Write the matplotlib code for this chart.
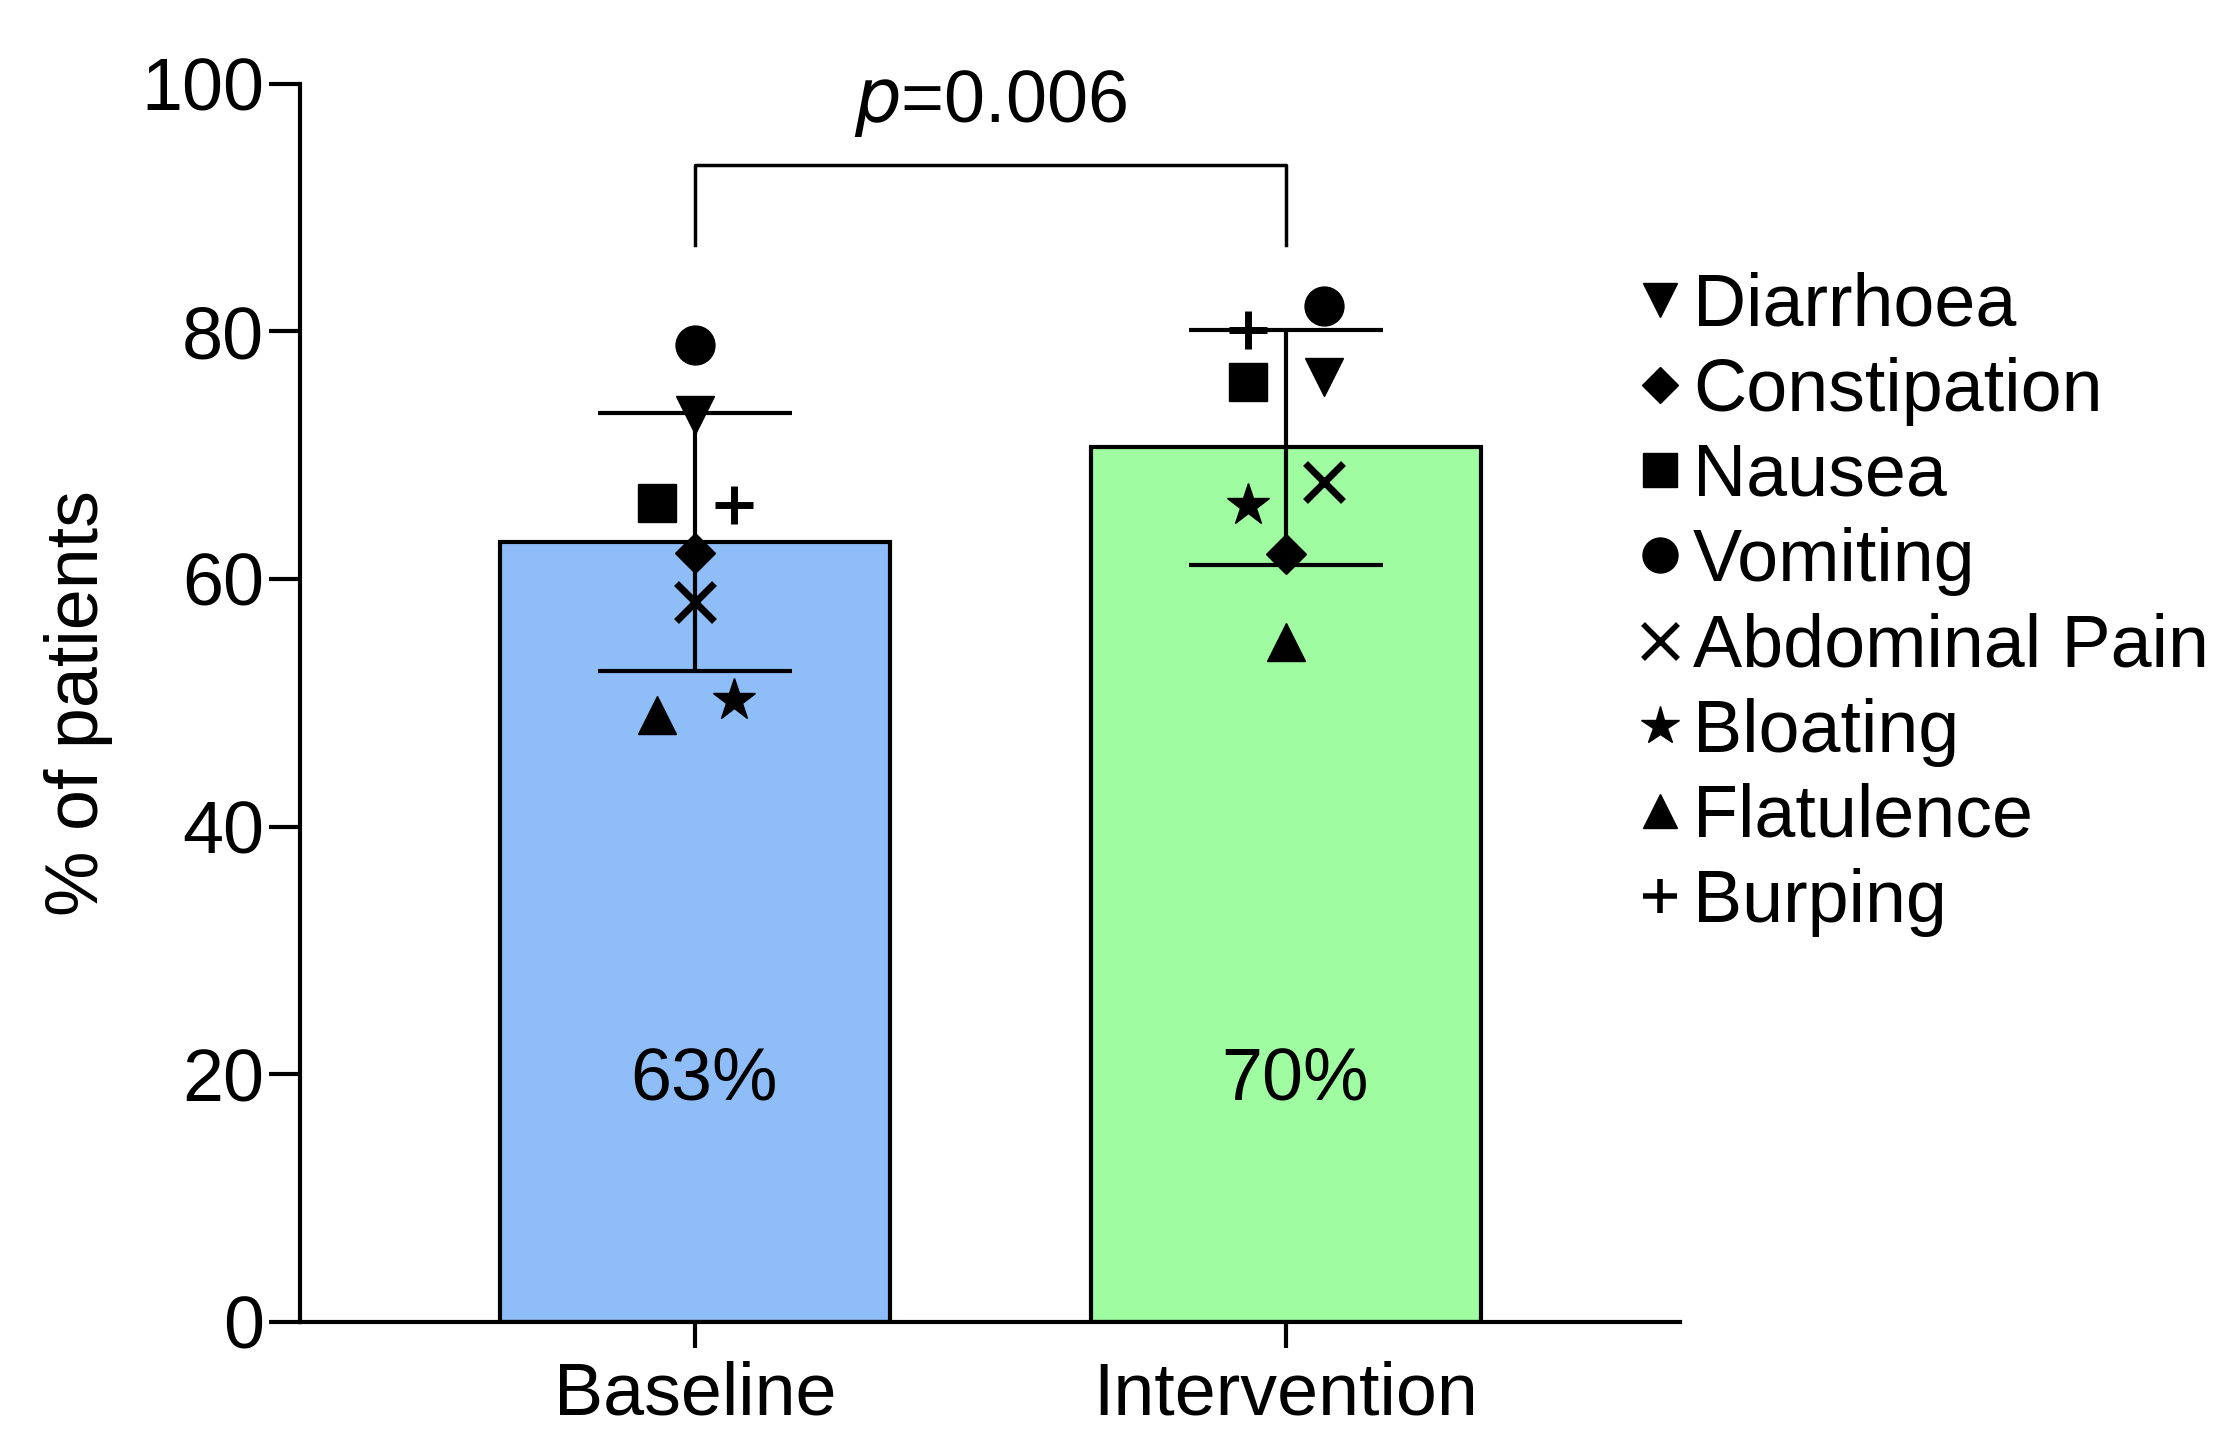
import numpy as np
import matplotlib.pyplot as plt
from matplotlib.lines import Line2D

plt.rcParams['font.family'] = ['Liberation Sans', 'DejaVu Sans']

groups = ['Baseline', 'Intervention']
symptoms = ['Diarrhoea', 'Constipation', 'Nausea', 'Vomiting',
            'Abdominal Pain', 'Bloating', 'Flatulence', 'Burping']
baseline = [73.2, 62.1, 66.1, 78.9, 58.1, 50.2, 49.0, 66.0]
intervention = [76.3, 62.0, 75.9, 82.0, 67.8, 66.0, 54.9, 80.1]
bar_labels = ['63%', '70%']
p_text = 'p=0.006'

# symbol per symptom, and which side of the bar centre it sits (-1, 0, 1)
markers = {'Diarrhoea': 'v', 'Constipation': 'D', 'Nausea': 's', 'Vomiting': 'o',
           'Abdominal Pain': 'x', 'Bloating': '*', 'Flatulence': '^', 'Burping': '+'}
msize = {'v': 27, 'D': 20, 's': 27, 'o': 28, 'x': 28, '*': 32, '^': 27, '+': 27}
side_base = [0, 0, -1, 0, 0, 1, -1, 1]
side_int = [1, 0, -1, 1, 1, -1, 0, -1]

data = [np.array(baseline), np.array(intervention)]
means = [d.mean() for d in data]
sds = [d.std(ddof=1) for d in data]

FS = 53

fig = plt.figure(figsize=(22.21, 14.31), dpi=100)
ax = fig.add_axes([0.1352, 0.0762, 0.6212, 0.8654])

x = np.arange(len(groups))
ax.bar(x, means, width=0.66, color=['#8fbdf7', '#a0fca0'],
       edgecolor='black', linewidth=3, zorder=1)
ax.errorbar(x, means, yerr=sds, fmt='none', ecolor='black', elinewidth=3,
            capsize=70, capthick=3, zorder=2)

step = 0.065
for gi, (vals, sides) in enumerate([(baseline, side_base), (intervention, side_int)]):
    for s, v, sd in zip(symptoms, vals, sides):
        m = markers[s]
        ax.plot(x[gi] + sd * step, v, marker=m, color='black', markersize=msize[m],
                markeredgewidth=5 if m in 'x+' else 1, linestyle='none',
                zorder=3, clip_on=False)

for xi, lab in zip(x, bar_labels):
    ax.text(xi + 0.015, 19.5, lab, ha='center', va='center', fontsize=FS)

# significance bracket
ax.plot([x[0], x[0], x[1], x[1]], [87, 93.4, 93.4, 87], color='black',
        linewidth=2.5, clip_on=False)
ax.text((x[0] + x[1]) / 2, 98.4, r'$\it{p}$' + p_text[1:], ha='center',
        va='center', fontsize=FS)

ax.set_xlim(-0.669, 1.667)
ax.set_ylim(0, 100)
ax.set_yticks([0, 20, 40, 60, 80, 100])
ax.set_xticks(x)
ax.set_xticklabels(groups)
ax.set_ylabel('% of patients', fontsize=FS, labelpad=20)
ax.tick_params(axis='both', labelsize=FS, width=3, direction='out')
ax.tick_params(axis='y', length=22, pad=4)
ax.tick_params(axis='x', length=19, pad=9)
for sp in ['top', 'right']:
    ax.spines[sp].set_visible(False)
for sp in ['left', 'bottom']:
    ax.spines[sp].set_linewidth(3)

handles = [Line2D([], [], marker=markers[s], color='black', linestyle='none',
                  markersize=msize[markers[s]] * 0.9,
                  markeredgewidth=4 if markers[s] in 'x+' else 1)
           for s in symptoms]
ax.legend(handles, symptoms, loc='upper left', bbox_to_anchor=(0.948, 0.872),
          frameon=False, fontsize=FS, handlelength=0.6, handletextpad=0.15,
          labelspacing=0.22, borderaxespad=0)

fig.savefig('out.png', dpi=100)
